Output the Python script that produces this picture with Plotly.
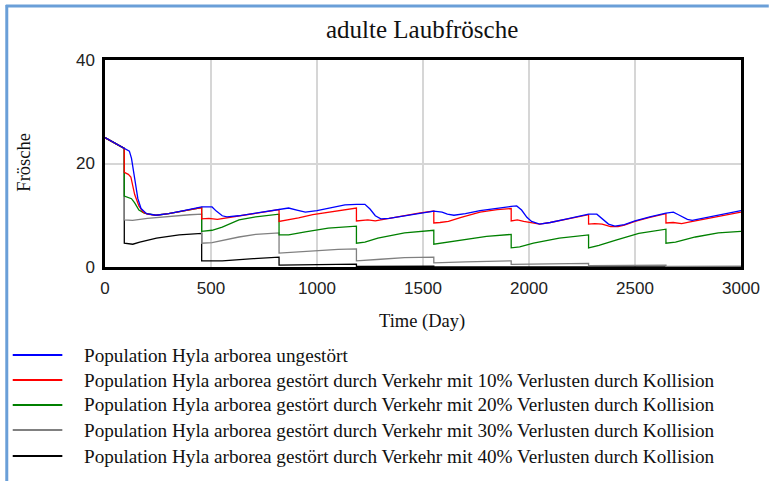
import plotly.graph_objects as go

# ---- data: adult tree frogs (Hyla arborea) over 3000 days ----
days_u = [0, 91, 115, 125, 140, 155, 170, 196, 240, 300, 360, 420, 456, 505, 525, 553, 575, 630, 711, 770,
          821, 866, 905, 945, 1000, 1060, 1132, 1186, 1226, 1250, 1275, 1301, 1340, 1413, 1480, 1551, 1590,
          1615, 1646, 1700, 1769, 1850, 1916, 1942, 1965, 1990, 2012, 2050, 2100, 2180, 2281, 2320, 2345,
          2375, 2405, 2450, 2500, 2570, 2646, 2681, 2705, 2747, 2770, 2820, 2900, 3000]
pop_u = [25.0, 22.9, 22.4, 21.0, 17.0, 13.2, 11.3, 10.3, 10.0, 10.3, 10.8, 11.3, 11.6, 11.6, 10.8, 9.9, 9.7,
         9.9, 10.4, 10.9, 11.2, 11.4, 11.0, 10.6, 10.9, 11.4, 12.0, 12.1, 12.1, 11.2, 9.9, 9.3, 9.4, 9.9, 10.4,
         10.8, 10.6, 10.2, 10.0, 10.3, 10.9, 11.4, 11.7, 11.8, 11.0, 9.6, 8.8, 8.3, 8.6, 9.3, 10.2, 10.2, 9.3,
         8.3, 7.9, 8.2, 8.9, 9.7, 10.4, 10.6, 10.1, 9.2, 9.0, 9.4, 10.1, 10.9]

days_10 = [0, 91, 91, 110, 122, 140, 160, 180, 200, 240, 300, 360, 420, 456, 456, 490, 530, 575, 630, 711, 770,
           821, 821, 870, 913, 980, 1053, 1120, 1186, 1186, 1210, 1240, 1275, 1301, 1340, 1413, 1480, 1551, 1551,
           1580, 1620, 1680, 1769, 1850, 1916, 1916, 1945, 1975, 2012, 2050, 2100, 2180, 2281, 2281, 2310, 2345,
           2385, 2420, 2450, 2500, 2570, 2646, 2646, 2680, 2720, 2760, 2820, 2900, 3000]
pop_10 = [25.0, 22.9, 18.3, 17.9, 17.4, 14.0, 11.8, 10.6, 10.2, 10.0, 10.3, 10.8, 11.3, 11.5, 9.3, 9.4, 9.2, 9.5,
          9.9, 10.4, 10.9, 11.1, 8.8, 9.1, 9.5, 10.1, 10.6, 11.0, 11.4, 8.9, 9.0, 9.1, 8.9, 9.1, 9.4, 9.9, 10.4,
          10.8, 8.5, 8.6, 8.8, 9.6, 10.6, 11.1, 11.3, 8.9, 9.1, 8.8, 8.5, 8.3, 8.6, 9.3, 10.1, 8.3, 8.4, 8.3, 7.8,
          7.8, 8.1, 8.8, 9.6, 10.3, 8.5, 8.6, 8.4, 8.7, 9.2, 9.9, 10.6]

days_20 = [0, 91, 91, 110, 125, 140, 160, 185, 215, 240, 300, 360, 420, 456, 456, 505, 553, 632, 711, 821, 821,
           866, 945, 1053, 1186, 1186, 1226, 1287, 1413, 1551, 1551, 1582, 1694, 1800, 1916, 1916, 1956, 2021,
           2143, 2281, 2281, 2330, 2410, 2518, 2646, 2646, 2691, 2785, 2893, 3000]
pop_20 = [25.0, 22.9, 13.7, 13.5, 13.2, 12.4, 11.0, 10.4, 10.1, 10.0, 10.3, 10.8, 11.3, 11.5, 6.9, 7.1, 7.7, 9.1,
          9.7, 10.2, 6.2, 6.2, 6.8, 7.5, 7.9, 4.6, 4.8, 5.6, 6.6, 7.1, 4.4, 4.6, 5.2, 5.9, 6.3, 3.7, 3.9, 4.6,
          5.6, 6.2, 3.7, 4.2, 5.2, 6.5, 7.3, 4.6, 4.8, 5.8, 6.6, 6.9]

days_30 = [0, 91, 91, 130, 200, 300, 400, 456, 456, 505, 553, 632, 711, 821, 821, 900, 1000, 1100, 1186, 1186,
           1300, 1413, 1551, 1551, 1700, 1800, 1916, 1916, 2100, 2281, 2281, 2450, 2646, 2646, 3000]
pop_30 = [25.0, 22.9, 9.1, 9.0, 9.4, 9.8, 10.1, 10.2, 4.6, 4.7, 5.1, 5.8, 6.3, 6.6, 2.7, 2.9, 3.2, 3.4, 3.5, 1.2,
          1.5, 1.8, 1.9, 0.8, 1.0, 1.1, 1.2, 0.5, 0.6, 0.7, 0.25, 0.3, 0.35, 0.12, 0.15]

days_40 = [0, 91, 91, 131, 164, 243, 350, 456, 456, 553, 700, 821, 821, 1000, 1186, 1186, 1551, 1551, 3000]
pop_40 = [25.0, 22.9, 4.6, 4.4, 4.8, 5.6, 6.2, 6.5, 1.2, 1.2, 1.6, 1.9, 0.35, 0.45, 0.55, 0.1, 0.15, 0.03, 0.03]

series_names = [
    "Population Hyla arborea ungestört",
    "Population Hyla arborea gestört durch Verkehr mit 10% Verlusten durch Kollision",
    "Population Hyla arborea gestört durch Verkehr mit 20% Verlusten durch Kollision",
    "Population Hyla arborea gestört durch Verkehr mit 30% Verlusten durch Kollision",
    "Population Hyla arborea gestört durch Verkehr mit 40% Verlusten durch Kollision",
]
series_colors = ["#0000ff", "#ff0000", "#008000", "#808080", "#000000"]
series_x = [days_u, days_10, days_20, days_30, days_40]
series_y = [pop_u, pop_10, pop_20, pop_30, pop_40]

x_ticks = [0, 500, 1000, 1500, 2000, 2500, 3000]
y_ticks = [0, 20, 40]

# ---- figure geometry (pixels) ----
W, H = 772, 481
L, R, T, B = 105, 746, 60, 267          # plot frame edges


def px(xp):
    return (xp - L) / (R - L)


def py(yp):
    return (B - yp) / (B - T)


SERIF = "Liberation Serif, Times New Roman, serif"
SANS = "Liberation Sans, Arial, sans-serif"

fig = go.Figure()
# draw the most disturbed series first so the undisturbed one lies on top
for xs, ys, nm, col in reversed(list(zip(series_x, series_y, series_names, series_colors))):
    fig.add_trace(go.Scatter(x=xs, y=ys, mode="lines", name=nm, showlegend=False,
                             line=dict(color=col, width=1.3), hoverinfo="x+y+name"))

axis_common = dict(showgrid=True, gridcolor="#d6d6d6", gridwidth=1.5, zeroline=False,
                   showline=True, linecolor="#000000", linewidth=2.5, mirror=True, ticks="",
                   tickfont=dict(family=SANS, size=17, color="#222222"))
fig.update_xaxes(range=[0, 3000], tickvals=x_ticks, ticklabelstandoff=4, **axis_common)
fig.update_yaxes(range=[0, 40], tickvals=y_ticks, ticklabelstandoff=4, **axis_common)

shapes = []
# window frame lines (left and top)
frame_col = "#6a9fd8"
shapes.append(dict(type="line", xref="paper", yref="paper", x0=px(6), x1=px(6), y0=py(W), y1=py(5),
                   line=dict(color=frame_col, width=3)))
shapes.append(dict(type="line", xref="paper", yref="paper", x0=px(5), x1=px(W + 2), y0=py(6), y1=py(6),
                   line=dict(color=frame_col, width=3)))

annotations = [
    dict(text="adulte Laubfrösche", xref="paper", yref="paper", x=px(424), y=py(29),
         xanchor="center", yanchor="middle", showarrow=False,
         font=dict(family=SERIF, size=25, color="#111111")),
    dict(text="Frösche", xref="paper", yref="paper", x=px(23), y=py(162), textangle=-90,
         xanchor="center", yanchor="middle", showarrow=False,
         font=dict(family=SERIF, size=18.5, color="#111111")),
    dict(text="Time (Day)", xref="paper", yref="paper", x=px(424), y=py(321),
         xanchor="center", yanchor="middle", showarrow=False,
         font=dict(family=SERIF, size=18.5, color="#111111")),
]

# legend drawn as line samples with labels
legend_rows = [355, 380, 405, 430, 456]
for yrow, nm, col in zip(legend_rows, series_names, series_colors):
    shapes.append(dict(type="line", xref="paper", yref="paper", x0=px(12), x1=px(62), y0=py(yrow), y1=py(yrow),
                       line=dict(color=col, width=2)))
    annotations.append(dict(text=nm, xref="paper", yref="paper", x=px(82), y=py(yrow),
                            xanchor="left", yanchor="middle", showarrow=False,
                            font=dict(family=SERIF, size=19.2, color="#111111")))

fig.update_layout(width=W, height=H, margin=dict(l=L, r=W - R, t=T, b=H - B),
                  paper_bgcolor="white", plot_bgcolor="white",
                  shapes=shapes, annotations=annotations, showlegend=False)

fig.write_html("out.html")
